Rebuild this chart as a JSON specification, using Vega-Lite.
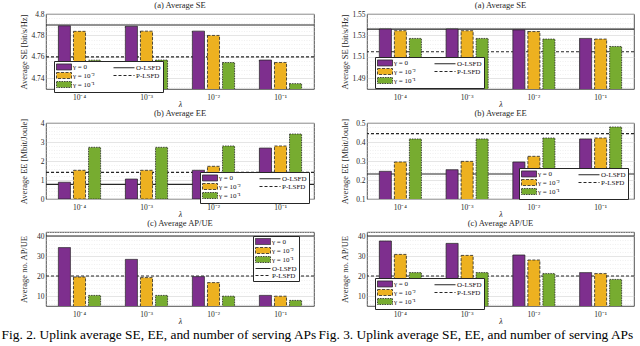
{
  "$schema": "https://vega.github.io/schema/vega-lite/v6.json",
  "background": "white",
  "padding": {"left": 1, "top": 0, "right": 2, "bottom": 0},
  "config": {
    "font": "Liberation Serif",
    "view": {"stroke": "#262626", "strokeWidth": 0.8},
    "axis": {"labelFont": "Liberation Serif", "labelFontSize": 7.5, "labelColor": "#262626", "titleFont": "Liberation Serif", "titleFontSize": 8.5, "titleFontWeight": "normal", "titleColor": "#262626", "ticks": false, "domain": false, "grid": false, "labelOverlap": false},
    "axisX": {"labelPadding": 4, "titlePadding": 0, "labelAngle": 0, "titleFontSize": 8},
    "axisY": {"grid": true, "gridColor": "#dcdcdc", "gridWidth": 0.6, "labelPadding": 2, "titlePadding": 3, "minExtent": 15, "maxExtent": 15},
    "title": {"font": "Liberation Serif", "fontSize": 8.5, "fontWeight": "normal", "color": "#262626", "offset": 1},
    "legend": {"fillColor": "white", "strokeColor": "#262626", "padding": 2, "labelFont": "Liberation Serif", "labelFontSize": 7, "labelColor": "#111", "symbolSize": 36, "rowPadding": -4, "columnPadding": 16, "labelOffset": 10, "symbolStrokeColor": "#262626"}
  },
  "datasets": {
    "bars": [
      {"fig": "2", "panel": "a", "lambda": "10⁻⁴", "gamma": "γ = 0", "value": 4.789},
      {"fig": "2", "panel": "a", "lambda": "10⁻⁴", "gamma": "γ = 10⁻²", "value": 4.7838},
      {"fig": "2", "panel": "a", "lambda": "10⁻⁴", "gamma": "γ = 10⁻¹", "value": 4.7569},
      {"fig": "2", "panel": "a", "lambda": "10⁻³", "gamma": "γ = 0", "value": 4.7885},
      {"fig": "2", "panel": "a", "lambda": "10⁻³", "gamma": "γ = 10⁻²", "value": 4.784},
      {"fig": "2", "panel": "a", "lambda": "10⁻³", "gamma": "γ = 10⁻¹", "value": 4.757},
      {"fig": "2", "panel": "a", "lambda": "10⁻²", "gamma": "γ = 0", "value": 4.784},
      {"fig": "2", "panel": "a", "lambda": "10⁻²", "gamma": "γ = 10⁻²", "value": 4.780},
      {"fig": "2", "panel": "a", "lambda": "10⁻²", "gamma": "γ = 10⁻¹", "value": 4.7547},
      {"fig": "2", "panel": "a", "lambda": "10⁻¹", "gamma": "γ = 0", "value": 4.757},
      {"fig": "2", "panel": "a", "lambda": "10⁻¹", "gamma": "γ = 10⁻²", "value": 4.7547},
      {"fig": "2", "panel": "a", "lambda": "10⁻¹", "gamma": "γ = 10⁻¹", "value": 4.735},
      {"fig": "2", "panel": "b", "lambda": "10⁻⁴", "gamma": "γ = 0", "value": 0.88},
      {"fig": "2", "panel": "b", "lambda": "10⁻⁴", "gamma": "γ = 10⁻²", "value": 1.51},
      {"fig": "2", "panel": "b", "lambda": "10⁻⁴", "gamma": "γ = 10⁻¹", "value": 2.72},
      {"fig": "2", "panel": "b", "lambda": "10⁻³", "gamma": "γ = 0", "value": 1.05},
      {"fig": "2", "panel": "b", "lambda": "10⁻³", "gamma": "γ = 10⁻²", "value": 1.51},
      {"fig": "2", "panel": "b", "lambda": "10⁻³", "gamma": "γ = 10⁻¹", "value": 2.72},
      {"fig": "2", "panel": "b", "lambda": "10⁻²", "gamma": "γ = 0", "value": 1.51},
      {"fig": "2", "panel": "b", "lambda": "10⁻²", "gamma": "γ = 10⁻²", "value": 1.72},
      {"fig": "2", "panel": "b", "lambda": "10⁻²", "gamma": "γ = 10⁻¹", "value": 2.79},
      {"fig": "2", "panel": "b", "lambda": "10⁻¹", "gamma": "γ = 0", "value": 2.68},
      {"fig": "2", "panel": "b", "lambda": "10⁻¹", "gamma": "γ = 10⁻²", "value": 2.79},
      {"fig": "2", "panel": "b", "lambda": "10⁻¹", "gamma": "γ = 10⁻¹", "value": 3.42},
      {"fig": "2", "panel": "c", "lambda": "10⁻⁴", "gamma": "γ = 0", "value": 34.2},
      {"fig": "2", "panel": "c", "lambda": "10⁻⁴", "gamma": "γ = 10⁻²", "value": 19.5},
      {"fig": "2", "panel": "c", "lambda": "10⁻⁴", "gamma": "γ = 10⁻¹", "value": 10.3},
      {"fig": "2", "panel": "c", "lambda": "10⁻³", "gamma": "γ = 0", "value": 28.3},
      {"fig": "2", "panel": "c", "lambda": "10⁻³", "gamma": "γ = 10⁻²", "value": 19.2},
      {"fig": "2", "panel": "c", "lambda": "10⁻³", "gamma": "γ = 10⁻¹", "value": 10.3},
      {"fig": "2", "panel": "c", "lambda": "10⁻²", "gamma": "γ = 0", "value": 19.7},
      {"fig": "2", "panel": "c", "lambda": "10⁻²", "gamma": "γ = 10⁻²", "value": 16.7},
      {"fig": "2", "panel": "c", "lambda": "10⁻²", "gamma": "γ = 10⁻¹", "value": 9.9},
      {"fig": "2", "panel": "c", "lambda": "10⁻¹", "gamma": "γ = 0", "value": 10.3},
      {"fig": "2", "panel": "c", "lambda": "10⁻¹", "gamma": "γ = 10⁻²", "value": 9.9},
      {"fig": "2", "panel": "c", "lambda": "10⁻¹", "gamma": "γ = 10⁻¹", "value": 7.8},
      {"fig": "3", "panel": "a", "lambda": "10⁻⁴", "gamma": "γ = 0", "value": 1.536},
      {"fig": "3", "panel": "a", "lambda": "10⁻⁴", "gamma": "γ = 10⁻²", "value": 1.5344},
      {"fig": "3", "panel": "a", "lambda": "10⁻⁴", "gamma": "γ = 10⁻¹", "value": 1.5272},
      {"fig": "3", "panel": "a", "lambda": "10⁻³", "gamma": "γ = 0", "value": 1.536},
      {"fig": "3", "panel": "a", "lambda": "10⁻³", "gamma": "γ = 10⁻²", "value": 1.5344},
      {"fig": "3", "panel": "a", "lambda": "10⁻³", "gamma": "γ = 10⁻¹", "value": 1.5272},
      {"fig": "3", "panel": "a", "lambda": "10⁻²", "gamma": "γ = 0", "value": 1.5352},
      {"fig": "3", "panel": "a", "lambda": "10⁻²", "gamma": "γ = 10⁻²", "value": 1.5336},
      {"fig": "3", "panel": "a", "lambda": "10⁻²", "gamma": "γ = 10⁻¹", "value": 1.5266},
      {"fig": "3", "panel": "a", "lambda": "10⁻¹", "gamma": "γ = 0", "value": 1.5272},
      {"fig": "3", "panel": "a", "lambda": "10⁻¹", "gamma": "γ = 10⁻²", "value": 1.5266},
      {"fig": "3", "panel": "a", "lambda": "10⁻¹", "gamma": "γ = 10⁻¹", "value": 1.5197},
      {"fig": "3", "panel": "b", "lambda": "10⁻⁴", "gamma": "γ = 0", "value": 0.2456},
      {"fig": "3", "panel": "b", "lambda": "10⁻⁴", "gamma": "γ = 10⁻²", "value": 0.2947},
      {"fig": "3", "panel": "b", "lambda": "10⁻⁴", "gamma": "γ = 10⁻¹", "value": 0.4158},
      {"fig": "3", "panel": "b", "lambda": "10⁻³", "gamma": "γ = 0", "value": 0.254},
      {"fig": "3", "panel": "b", "lambda": "10⁻³", "gamma": "γ = 10⁻²", "value": 0.298},
      {"fig": "3", "panel": "b", "lambda": "10⁻³", "gamma": "γ = 10⁻¹", "value": 0.416},
      {"fig": "3", "panel": "b", "lambda": "10⁻²", "gamma": "γ = 0", "value": 0.2947},
      {"fig": "3", "panel": "b", "lambda": "10⁻²", "gamma": "γ = 10⁻²", "value": 0.3246},
      {"fig": "3", "panel": "b", "lambda": "10⁻²", "gamma": "γ = 10⁻¹", "value": 0.421},
      {"fig": "3", "panel": "b", "lambda": "10⁻¹", "gamma": "γ = 0", "value": 0.416},
      {"fig": "3", "panel": "b", "lambda": "10⁻¹", "gamma": "γ = 10⁻²", "value": 0.421},
      {"fig": "3", "panel": "b", "lambda": "10⁻¹", "gamma": "γ = 10⁻¹", "value": 0.479},
      {"fig": "3", "panel": "c", "lambda": "10⁻⁴", "gamma": "γ = 0", "value": 37.5},
      {"fig": "3", "panel": "c", "lambda": "10⁻⁴", "gamma": "γ = 10⁻²", "value": 30.8},
      {"fig": "3", "panel": "c", "lambda": "10⁻⁴", "gamma": "γ = 10⁻¹", "value": 21.7},
      {"fig": "3", "panel": "c", "lambda": "10⁻³", "gamma": "γ = 0", "value": 36.3},
      {"fig": "3", "panel": "c", "lambda": "10⁻³", "gamma": "γ = 10⁻²", "value": 30.3},
      {"fig": "3", "panel": "c", "lambda": "10⁻³", "gamma": "γ = 10⁻¹", "value": 21.7},
      {"fig": "3", "panel": "c", "lambda": "10⁻²", "gamma": "γ = 0", "value": 30.5},
      {"fig": "3", "panel": "c", "lambda": "10⁻²", "gamma": "γ = 10⁻²", "value": 28.0},
      {"fig": "3", "panel": "c", "lambda": "10⁻²", "gamma": "γ = 10⁻¹", "value": 21.2},
      {"fig": "3", "panel": "c", "lambda": "10⁻¹", "gamma": "γ = 0", "value": 21.7},
      {"fig": "3", "panel": "c", "lambda": "10⁻¹", "gamma": "γ = 10⁻²", "value": 21.2},
      {"fig": "3", "panel": "c", "lambda": "10⁻¹", "gamma": "γ = 10⁻¹", "value": 18.3}
    ],
    "lines": [
      {"fig": "2", "panel": "a", "method": "O-LSFD", "value": 4.7897},
      {"fig": "2", "panel": "a", "method": "P-LSFD", "value": 4.76},
      {"fig": "2", "panel": "b", "method": "O-LSFD", "value": 0.77},
      {"fig": "2", "panel": "b", "method": "P-LSFD", "value": 1.40},
      {"fig": "2", "panel": "c", "method": "O-LSFD", "value": 40},
      {"fig": "2", "panel": "c", "method": "P-LSFD", "value": 20},
      {"fig": "3", "panel": "a", "method": "O-LSFD", "value": 1.5359},
      {"fig": "3", "panel": "a", "method": "P-LSFD", "value": 1.5147},
      {"fig": "3", "panel": "b", "method": "O-LSFD", "value": 0.2316},
      {"fig": "3", "panel": "b", "method": "P-LSFD", "value": 0.4439},
      {"fig": "3", "panel": "c", "method": "O-LSFD", "value": 40},
      {"fig": "3", "panel": "c", "method": "P-LSFD", "value": 20}
    ]
  },
  "spacing": -3,
  "resolve": {"scale": {"fill": "independent", "x": "independent", "y": "independent", "xOffset": "independent"}, "legend": {"fill": "independent"}},
  "hconcat": [
    {
      "title": {"text": "Fig. 2.  Uplink average SE, EE, and number of serving APs", "orient": "bottom", "anchor": "start", "frame": "bounds", "fontSize": 13.4, "offset": 2, "dx": -17, "color": "black"},
      "spacing": -1,
      "resolve": {"scale": {"fill": "independent", "x": "independent", "y": "independent", "xOffset": "independent"}, "legend": {"fill": "independent"}},
      "vconcat": [
        {
          "width": 268, "height": 75,
          "title": "(a) Average SE",
          "encoding": {"y": {"field": "value", "type": "quantitative", "scale": {"domain": [4.73, 4.8], "zero": false, "nice": false},
            "axis": {"values": [4.732, 4.736, 4.74, 4.744, 4.748, 4.752, 4.756, 4.76, 4.764, 4.768, 4.772, 4.776, 4.78, 4.784, 4.788, 4.792, 4.796, 4.8], "format": ".2~f",
              "labelExpr": "indexof([4.74, 4.76, 4.78, 4.8], datum.value) >= 0 ? datum.label : ''",
              "gridDash": {"condition": {"test": "indexof([4.74, 4.76, 4.78, 4.8], datum.value) >= 0", "value": []}, "value": [1, 1.5]},
              "gridColor": {"condition": {"test": "indexof([4.74, 4.76, 4.78, 4.8], datum.value) >= 0", "value": "#d4d4d4"}, "value": "#e6e6e6"}},
            "title": "Average SE [bit/s/Hz]"}},
          "layer": [
            {"data": {"name": "lines"}, "transform": [{"filter": "datum.fig === '2' && datum.panel === 'a'"}],
             "mark": {"type": "rule", "color": "#262626", "strokeWidth": 1.1},
             "encoding": {"strokeDash": {"condition": {"test": "datum.method === 'P-LSFD'", "value": [3, 2]}, "value": [1, 0]}}},
            {"data": {"name": "bars"}, "transform": [{"filter": "datum.fig === '2' && datum.panel === 'a'"}],
             "mark": {"type": "bar", "stroke": "#262626", "strokeWidth": 0.8, "clip": true},
             "encoding": {
               "x": {"field": "lambda", "type": "nominal", "sort": ["10⁻⁴", "10⁻³", "10⁻²", "10⁻¹"], "scale": {"paddingInner": 0.37, "paddingOuter": 0.185}, "title": "λ", "axis": {"titleFontStyle": "italic"}},
               "xOffset": {"field": "gamma", "type": "nominal", "sort": ["γ = 0", "γ = 10⁻²", "γ = 10⁻¹"], "scale": {"paddingInner": 0.2, "paddingOuter": 0}},
               "fill": {"field": "gamma", "type": "nominal",
                 "scale": {"domain": ["γ = 0", "γ = 10⁻²", "γ = 10⁻¹", "O-LSFD", "P-LSFD"], "range": ["#7E2F8E", "#EDB120", "#77AC30", "transparent", "transparent"]},
                 "legend": {"title": null, "orient": "none", "legendX": 8, "legendY": 47, "columns": 2,
                   "encode": {"symbols": {"update": {
                     "shape": {"signal": "datum.value === 'O-LSFD' || datum.value === 'P-LSFD' ? 'M-3,0H4' : 'M-1,-1H4V1H-1Z'"},
                     "strokeDash": {"signal": "datum.value === 'P-LSFD' ? [3,2] : datum.value === 'γ = 10⁻²' ? [3,1.5] : datum.value === 'γ = 10⁻¹' ? [1.5,1] : [1,0]"},
                     "strokeWidth": {"signal": "datum.value === 'O-LSFD' || datum.value === 'P-LSFD' ? 1.1 : 0.8"},
                     "stroke": {"value": "#262626"}}}}}},
               "strokeDash": {"condition": [{"test": "datum.gamma === 'γ = 10⁻²'", "value": [3, 1.5]}, {"test": "datum.gamma === 'γ = 10⁻¹'", "value": [1.5, 1]}], "value": [1, 0]}
             }}
          ]
        },
        {
          "width": 268, "height": 76,
          "title": "(b) Average EE",
          "encoding": {"y": {"field": "value", "type": "quantitative", "scale": {"domain": [0, 4], "zero": false, "nice": false},
            "axis": {"values": [0, 0.2, 0.4, 0.6, 0.8, 1, 1.2, 1.4, 1.6, 1.8, 2, 2.2, 2.4, 2.6, 2.8, 3, 3.2, 3.4, 3.6, 3.8, 4], "format": ".0f",
              "labelExpr": "indexof([0, 1, 2, 3, 4], datum.value) >= 0 ? datum.label : ''",
              "gridDash": {"condition": {"test": "indexof([0, 1, 2, 3, 4], datum.value) >= 0", "value": []}, "value": [1, 1.5]},
              "gridColor": {"condition": {"test": "indexof([0, 1, 2, 3, 4], datum.value) >= 0", "value": "#d4d4d4"}, "value": "#e6e6e6"}},
            "title": "Average EE [Mbit/Joule]"}},
          "layer": [
            {"data": {"name": "lines"}, "transform": [{"filter": "datum.fig === '2' && datum.panel === 'b'"}],
             "mark": {"type": "rule", "color": "#262626", "strokeWidth": 1.1},
             "encoding": {"strokeDash": {"condition": {"test": "datum.method === 'P-LSFD'", "value": [3, 2]}, "value": [1, 0]}}},
            {"data": {"name": "bars"}, "transform": [{"filter": "datum.fig === '2' && datum.panel === 'b'"}],
             "mark": {"type": "bar", "stroke": "#262626", "strokeWidth": 0.8, "clip": true},
             "encoding": {
               "x": {"field": "lambda", "type": "nominal", "sort": ["10⁻⁴", "10⁻³", "10⁻²", "10⁻¹"], "scale": {"paddingInner": 0.37, "paddingOuter": 0.185}, "title": "λ", "axis": {"titleFontStyle": "italic"}},
               "xOffset": {"field": "gamma", "type": "nominal", "sort": ["γ = 0", "γ = 10⁻²", "γ = 10⁻¹"], "scale": {"paddingInner": 0.2, "paddingOuter": 0}},
               "fill": {"field": "gamma", "type": "nominal",
                 "scale": {"domain": ["γ = 0", "γ = 10⁻²", "γ = 10⁻¹", "O-LSFD", "P-LSFD"], "range": ["#7E2F8E", "#EDB120", "#77AC30", "transparent", "transparent"]},
                 "legend": {"title": null, "orient": "none", "legendX": 154, "legendY": 49, "columns": 2,
                   "encode": {"symbols": {"update": {
                     "shape": {"signal": "datum.value === 'O-LSFD' || datum.value === 'P-LSFD' ? 'M-3,0H4' : 'M-1,-1H4V1H-1Z'"},
                     "strokeDash": {"signal": "datum.value === 'P-LSFD' ? [3,2] : datum.value === 'γ = 10⁻²' ? [3,1.5] : datum.value === 'γ = 10⁻¹' ? [1.5,1] : [1,0]"},
                     "strokeWidth": {"signal": "datum.value === 'O-LSFD' || datum.value === 'P-LSFD' ? 1.1 : 0.8"},
                     "stroke": {"value": "#262626"}}}}}},
               "strokeDash": {"condition": [{"test": "datum.gamma === 'γ = 10⁻²'", "value": [3, 1.5]}, {"test": "datum.gamma === 'γ = 10⁻¹'", "value": [1.5, 1]}], "value": [1, 0]}
             }}
          ]
        },
        {
          "width": 268, "height": 74,
          "title": "(c) Average AP/UE",
          "encoding": {"y": {"field": "value", "type": "quantitative", "scale": {"domain": [5, 42], "zero": false, "nice": false},
            "axis": {"values": [6, 8, 10, 12, 14, 16, 18, 20, 22, 24, 26, 28, 30, 32, 34, 36, 38, 40, 42], "format": "d",
              "labelExpr": "datum.value % 10 === 0 ? datum.label : ''",
              "gridDash": {"condition": {"test": "datum.value % 10 === 0", "value": []}, "value": [1, 1.5]},
              "gridColor": {"condition": {"test": "datum.value % 10 === 0", "value": "#d4d4d4"}, "value": "#e6e6e6"}},
            "title": "Average no. AP/UE"}},
          "layer": [
            {"data": {"name": "lines"}, "transform": [{"filter": "datum.fig === '2' && datum.panel === 'c'"}],
             "mark": {"type": "rule", "color": "#262626", "strokeWidth": 1.1},
             "encoding": {"strokeDash": {"condition": {"test": "datum.method === 'P-LSFD'", "value": [3, 2]}, "value": [1, 0]}}},
            {"data": {"name": "bars"}, "transform": [{"filter": "datum.fig === '2' && datum.panel === 'c'"}],
             "mark": {"type": "bar", "stroke": "#262626", "strokeWidth": 0.8, "clip": true},
             "encoding": {
               "x": {"field": "lambda", "type": "nominal", "sort": ["10⁻⁴", "10⁻³", "10⁻²", "10⁻¹"], "scale": {"paddingInner": 0.37, "paddingOuter": 0.185}, "title": "λ", "axis": {"titleFontStyle": "italic"}},
               "xOffset": {"field": "gamma", "type": "nominal", "sort": ["γ = 0", "γ = 10⁻²", "γ = 10⁻¹"], "scale": {"paddingInner": 0.2, "paddingOuter": 0}},
               "fill": {"field": "gamma", "type": "nominal",
                 "scale": {"domain": ["γ = 0", "γ = 10⁻²", "γ = 10⁻¹", "O-LSFD", "P-LSFD"], "range": ["#7E2F8E", "#EDB120", "#77AC30", "transparent", "transparent"]},
                 "legend": {"title": null, "orient": "none", "legendX": 207, "legendY": 4, "columns": 1,
                   "encode": {"symbols": {"update": {
                     "shape": {"signal": "datum.value === 'O-LSFD' || datum.value === 'P-LSFD' ? 'M-1,0H4' : 'M-1,-1H4V1H-1Z'"},
                     "strokeDash": {"signal": "datum.value === 'P-LSFD' ? [3,2] : datum.value === 'γ = 10⁻²' ? [3,1.5] : datum.value === 'γ = 10⁻¹' ? [1.5,1] : [1,0]"},
                     "strokeWidth": {"signal": "datum.value === 'O-LSFD' || datum.value === 'P-LSFD' ? 1.1 : 0.8"},
                     "stroke": {"value": "#262626"}}}}}},
               "strokeDash": {"condition": [{"test": "datum.gamma === 'γ = 10⁻²'", "value": [3, 1.5]}, {"test": "datum.gamma === 'γ = 10⁻¹'", "value": [1.5, 1]}], "value": [1, 0]}
             }}
          ]
        }
      ]
    },
    {
      "title": {"text": "Fig. 3.  Uplink average SE, EE, and number of serving APs", "orient": "bottom", "anchor": "start", "frame": "bounds", "fontSize": 13.4, "offset": 2, "dx": -21, "color": "black"},
      "spacing": -1,
      "resolve": {"scale": {"fill": "independent", "x": "independent", "y": "independent", "xOffset": "independent"}, "legend": {"fill": "independent"}},
      "vconcat": [
        {
          "width": 267, "height": 75,
          "title": "(a) Average SE",
          "encoding": {"y": {"field": "value", "type": "quantitative", "scale": {"domain": [1.48, 1.55], "zero": false, "nice": false},
            "axis": {"values": [1.482, 1.486, 1.49, 1.494, 1.498, 1.502, 1.506, 1.51, 1.514, 1.518, 1.522, 1.526, 1.53, 1.534, 1.538, 1.542, 1.546, 1.55], "format": ".2f",
              "labelExpr": "indexof([1.49, 1.51, 1.53, 1.55], datum.value) >= 0 ? datum.label : ''",
              "gridDash": {"condition": {"test": "indexof([1.49, 1.51, 1.53, 1.55], datum.value) >= 0", "value": []}, "value": [1, 1.5]},
              "gridColor": {"condition": {"test": "indexof([1.49, 1.51, 1.53, 1.55], datum.value) >= 0", "value": "#d4d4d4"}, "value": "#e6e6e6"}},
            "title": "Average SE [bit/s/Hz]"}},
          "layer": [
            {"data": {"name": "lines"}, "transform": [{"filter": "datum.fig === '3' && datum.panel === 'a'"}],
             "mark": {"type": "rule", "color": "#262626", "strokeWidth": 1.1},
             "encoding": {"strokeDash": {"condition": {"test": "datum.method === 'P-LSFD'", "value": [3, 2]}, "value": [1, 0]}}},
            {"data": {"name": "bars"}, "transform": [{"filter": "datum.fig === '3' && datum.panel === 'a'"}],
             "mark": {"type": "bar", "stroke": "#262626", "strokeWidth": 0.8, "clip": true},
             "encoding": {
               "x": {"field": "lambda", "type": "nominal", "sort": ["10⁻⁴", "10⁻³", "10⁻²", "10⁻¹"], "scale": {"paddingInner": 0.37, "paddingOuter": 0.185}, "title": "λ", "axis": {"titleFontStyle": "italic"}},
               "xOffset": {"field": "gamma", "type": "nominal", "sort": ["γ = 0", "γ = 10⁻²", "γ = 10⁻¹"], "scale": {"paddingInner": 0.2, "paddingOuter": 0}},
               "fill": {"field": "gamma", "type": "nominal",
                 "scale": {"domain": ["γ = 0", "γ = 10⁻²", "γ = 10⁻¹", "O-LSFD", "P-LSFD"], "range": ["#7E2F8E", "#EDB120", "#77AC30", "transparent", "transparent"]},
                 "legend": {"title": null, "orient": "none", "legendX": 8, "legendY": 43, "columns": 2,
                   "encode": {"symbols": {"update": {
                     "shape": {"signal": "datum.value === 'O-LSFD' || datum.value === 'P-LSFD' ? 'M-3,0H4' : 'M-1,-1H4V1H-1Z'"},
                     "strokeDash": {"signal": "datum.value === 'P-LSFD' ? [3,2] : datum.value === 'γ = 10⁻²' ? [3,1.5] : datum.value === 'γ = 10⁻¹' ? [1.5,1] : [1,0]"},
                     "strokeWidth": {"signal": "datum.value === 'O-LSFD' || datum.value === 'P-LSFD' ? 1.1 : 0.8"},
                     "stroke": {"value": "#262626"}}}}}},
               "strokeDash": {"condition": [{"test": "datum.gamma === 'γ = 10⁻²'", "value": [3, 1.5]}, {"test": "datum.gamma === 'γ = 10⁻¹'", "value": [1.5, 1]}], "value": [1, 0]}
             }}
          ]
        },
        {
          "width": 267, "height": 76,
          "title": "(b) Average EE",
          "encoding": {"y": {"field": "value", "type": "quantitative", "scale": {"domain": [0.1, 0.5], "zero": false, "nice": false},
            "axis": {"values": [0.1, 0.12, 0.14, 0.16, 0.18, 0.2, 0.22, 0.24, 0.26, 0.28, 0.3, 0.32, 0.34, 0.36, 0.38, 0.4, 0.42, 0.44, 0.46, 0.48, 0.5], "format": ".1f",
              "labelExpr": "indexof([0.1, 0.2, 0.3, 0.4, 0.5], datum.value) >= 0 ? datum.label : ''",
              "gridDash": {"condition": {"test": "indexof([0.1, 0.2, 0.3, 0.4, 0.5], datum.value) >= 0", "value": []}, "value": [1, 1.5]},
              "gridColor": {"condition": {"test": "indexof([0.1, 0.2, 0.3, 0.4, 0.5], datum.value) >= 0", "value": "#d4d4d4"}, "value": "#e6e6e6"}},
            "title": "Average EE [Mbit/Joule]"}},
          "layer": [
            {"data": {"name": "lines"}, "transform": [{"filter": "datum.fig === '3' && datum.panel === 'b'"}],
             "mark": {"type": "rule", "color": "#262626", "strokeWidth": 1.1},
             "encoding": {"strokeDash": {"condition": {"test": "datum.method === 'P-LSFD'", "value": [3, 2]}, "value": [1, 0]}}},
            {"data": {"name": "bars"}, "transform": [{"filter": "datum.fig === '3' && datum.panel === 'b'"}],
             "mark": {"type": "bar", "stroke": "#262626", "strokeWidth": 0.8, "clip": true},
             "encoding": {
               "x": {"field": "lambda", "type": "nominal", "sort": ["10⁻⁴", "10⁻³", "10⁻²", "10⁻¹"], "scale": {"paddingInner": 0.37, "paddingOuter": 0.185}, "title": "λ", "axis": {"titleFontStyle": "italic"}},
               "xOffset": {"field": "gamma", "type": "nominal", "sort": ["γ = 0", "γ = 10⁻²", "γ = 10⁻¹"], "scale": {"paddingInner": 0.2, "paddingOuter": 0}},
               "fill": {"field": "gamma", "type": "nominal",
                 "scale": {"domain": ["γ = 0", "γ = 10⁻²", "γ = 10⁻¹", "O-LSFD", "P-LSFD"], "range": ["#7E2F8E", "#EDB120", "#77AC30", "transparent", "transparent"]},
                 "legend": {"title": null, "orient": "none", "legendX": 152, "legendY": 45, "columns": 2,
                   "encode": {"symbols": {"update": {
                     "shape": {"signal": "datum.value === 'O-LSFD' || datum.value === 'P-LSFD' ? 'M-3,0H4' : 'M-1,-1H4V1H-1Z'"},
                     "strokeDash": {"signal": "datum.value === 'P-LSFD' ? [3,2] : datum.value === 'γ = 10⁻²' ? [3,1.5] : datum.value === 'γ = 10⁻¹' ? [1.5,1] : [1,0]"},
                     "strokeWidth": {"signal": "datum.value === 'O-LSFD' || datum.value === 'P-LSFD' ? 1.1 : 0.8"},
                     "stroke": {"value": "#262626"}}}}}},
               "strokeDash": {"condition": [{"test": "datum.gamma === 'γ = 10⁻²'", "value": [3, 1.5]}, {"test": "datum.gamma === 'γ = 10⁻¹'", "value": [1.5, 1]}], "value": [1, 0]}
             }}
          ]
        },
        {
          "width": 267, "height": 74,
          "title": "(c) Average AP/UE",
          "encoding": {"y": {"field": "value", "type": "quantitative", "scale": {"domain": [5, 42], "zero": false, "nice": false},
            "axis": {"values": [6, 8, 10, 12, 14, 16, 18, 20, 22, 24, 26, 28, 30, 32, 34, 36, 38, 40, 42], "format": "d",
              "labelExpr": "datum.value % 10 === 0 ? datum.label : ''",
              "gridDash": {"condition": {"test": "datum.value % 10 === 0", "value": []}, "value": [1, 1.5]},
              "gridColor": {"condition": {"test": "datum.value % 10 === 0", "value": "#d4d4d4"}, "value": "#e6e6e6"}},
            "title": "Average no. AP/UE"}},
          "layer": [
            {"data": {"name": "lines"}, "transform": [{"filter": "datum.fig === '3' && datum.panel === 'c'"}],
             "mark": {"type": "rule", "color": "#262626", "strokeWidth": 1.1},
             "encoding": {"strokeDash": {"condition": {"test": "datum.method === 'P-LSFD'", "value": [3, 2]}, "value": [1, 0]}}},
            {"data": {"name": "bars"}, "transform": [{"filter": "datum.fig === '3' && datum.panel === 'c'"}],
             "mark": {"type": "bar", "stroke": "#262626", "strokeWidth": 0.8, "clip": true},
             "encoding": {
               "x": {"field": "lambda", "type": "nominal", "sort": ["10⁻⁴", "10⁻³", "10⁻²", "10⁻¹"], "scale": {"paddingInner": 0.37, "paddingOuter": 0.185}, "title": "λ", "axis": {"titleFontStyle": "italic"}},
               "xOffset": {"field": "gamma", "type": "nominal", "sort": ["γ = 0", "γ = 10⁻²", "γ = 10⁻¹"], "scale": {"paddingInner": 0.2, "paddingOuter": 0}},
               "fill": {"field": "gamma", "type": "nominal",
                 "scale": {"domain": ["γ = 0", "γ = 10⁻²", "γ = 10⁻¹", "O-LSFD", "P-LSFD"], "range": ["#7E2F8E", "#EDB120", "#77AC30", "transparent", "transparent"]},
                 "legend": {"title": null, "orient": "none", "legendX": 8, "legendY": 46, "columns": 2,
                   "encode": {"symbols": {"update": {
                     "shape": {"signal": "datum.value === 'O-LSFD' || datum.value === 'P-LSFD' ? 'M-3,0H4' : 'M-1,-1H4V1H-1Z'"},
                     "strokeDash": {"signal": "datum.value === 'P-LSFD' ? [3,2] : datum.value === 'γ = 10⁻²' ? [3,1.5] : datum.value === 'γ = 10⁻¹' ? [1.5,1] : [1,0]"},
                     "strokeWidth": {"signal": "datum.value === 'O-LSFD' || datum.value === 'P-LSFD' ? 1.1 : 0.8"},
                     "stroke": {"value": "#262626"}}}}}},
               "strokeDash": {"condition": [{"test": "datum.gamma === 'γ = 10⁻²'", "value": [3, 1.5]}, {"test": "datum.gamma === 'γ = 10⁻¹'", "value": [1.5, 1]}], "value": [1, 0]}
             }}
          ]
        }
      ]
    }
  ]
}
